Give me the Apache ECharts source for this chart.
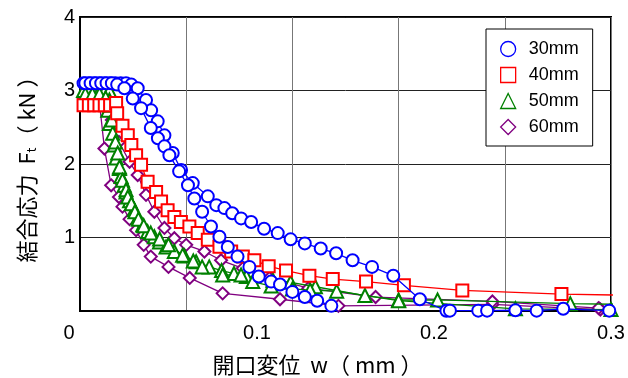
<!DOCTYPE html>
<html>
<head>
<meta charset="utf-8">
<script src="https://cdn.jsdelivr.net/npm/echarts@6/dist/echarts.min.js"></script>
<style>
  html, body { margin: 0; padding: 0; background: #fff; }
  #chart { width: 628px; height: 378px; }
</style>
</head>
<body>
<div id="chart"></div>
<script>
  // legend names
  var sizes = ['30mm', '40mm', '50mm', '60mm'];
  var colors = ['#0000ff', '#ff0000', '#008000', '#800080'];
  var symbols = ['emptyCircle', 'emptyRect', 'emptyTriangle', 'emptyDiamond'];

  var xLabels = [0, 0.1, 0.2, 0.3];
  var yLabels = [1, 2, 3, 4];

  // 30mm, two specimens
  var s30a = [[0.002,3.1],[0.005,3.1],[0.008,3.1],[0.011,3.1],[0.014,3.1],[0.017,3.1],[0.02,3.1],[0.023,3.1],[0.026,3.1],[0.029,3.08],
    [0.0326,3.03],[0.0373,2.87],[0.0402,2.73],[0.0439,2.58],[0.0477,2.39],[0.0524,2.15],[0.0571,1.92],[0.0637,1.74],[0.0722,1.56],
    [0.077,1.44],[0.0816,1.40],[0.086,1.33],[0.091,1.26],[0.0967,1.21],[0.104,1.12],[0.1117,1.06],[0.119,0.975],[0.127,0.92],
    [0.136,0.85],[0.1447,0.785],[0.154,0.69],[0.165,0.60],[0.177,0.48],[0.192,0.16],[0.207,0.003],[0.209,0.005],[0.225,0.005],
    [0.23,0.005],[0.246,0.01],[0.258,0.005],[0.273,0.03],[0.299,0.005]];
  var s30b = [[0.003,3.1],[0.006,3.1],[0.009,3.1],[0.012,3.1],[0.015,3.1],[0.018,3.1],[0.021,3.08],[0.0251,3.03],[0.0298,2.89],
    [0.0345,2.76],[0.040,2.49],[0.044,2.35],[0.0477,2.24],[0.0505,2.12],[0.056,1.90],[0.061,1.71],[0.0646,1.53],[0.069,1.35],
    [0.074,1.15],[0.0788,1.01],[0.0835,0.87],[0.089,0.74],[0.0957,0.60],[0.101,0.47],[0.108,0.40],[0.113,0.36],[0.12,0.26],
    [0.127,0.19],[0.134,0.14],[0.142,0.07],[0.152,-0.15]];
  // 40mm
  var s40 = [[0.002,2.8],[0.005,2.8],[0.008,2.8],[0.011,2.8],[0.014,2.8],[0.017,2.8],[0.0204,2.83],[0.021,2.69],[0.024,2.52],
    [0.027,2.39],[0.029,2.26],[0.0317,2.12],[0.0345,1.99],[0.0382,1.76],[0.043,1.62],[0.0458,1.49],[0.0495,1.37],[0.0533,1.28],
    [0.057,1.21],[0.0618,1.15],[0.0665,1.06],[0.0722,0.97],[0.0788,0.875],[0.0854,0.81],[0.092,0.74],[0.0985,0.69],[0.1066,0.61],
    [0.1164,0.55],[0.1296,0.48],[0.1428,0.435],[0.1616,0.40],[0.183,0.35],[0.216,0.28],[0.272,0.23],[0.32,0.21]];
  // 50mm, two specimens
  var s50a = [[0.002,3.0],[0.005,3.0],[0.008,3.0],[0.011,3.0],[0.014,3.0],[0.0166,3.0],[0.0166,2.87],[0.0157,2.73],[0.0166,2.55],
    [0.0185,2.42],[0.0194,2.26],[0.0204,2.08],[0.0223,1.94],[0.0232,1.83],[0.025,1.71],[0.026,1.62],[0.028,1.50],[0.0307,1.38],
    [0.0326,1.27],[0.0354,1.17],[0.0382,1.08],[0.042,1.01],[0.0449,0.94],[0.0486,0.87],[0.0533,0.81],[0.059,0.75],[0.0656,0.67],
    [0.073,0.60],[0.08,0.55],[0.087,0.51],[0.094,0.47],[0.109,0.42],[0.119,0.39],[0.133,0.33],[0.161,0.21],[0.18,0.15],
    [0.202,0.15],[0.277,0.10],[0.32,0.085]];
  var s50b = [[0.003,2.95],[0.007,2.95],[0.011,2.95],[0.0145,2.9],[0.017,2.8],[0.018,2.6],[0.02,2.3],[0.0213,2.15],[0.0223,1.96],
    [0.024,1.78],[0.026,1.65],[0.027,1.55],[0.029,1.46],[0.031,1.35],[0.033,1.25],[0.036,1.16],[0.04,1.06],[0.045,0.98],[0.05,0.9],
    [0.058,0.76],[0.064,0.68],[0.069,0.6],[0.0806,0.49],[0.091,0.49],[0.0976,0.40],[0.108,0.34],[0.12,0.3],[0.13,0.285],
    [0.145,0.27],[0.18,0.14],[0.246,0.03],[0.3,0.02]];
  // 60mm, two specimens
  var s60a = [[0.002,2.9],[0.005,2.9],[0.008,2.88],[0.011,2.83],[0.0138,2.21],[0.0176,1.71],[0.022,1.55],[0.024,1.42],[0.028,1.25],
    [0.0317,1.10],[0.036,0.9],[0.040,0.74],[0.05,0.6],[0.062,0.45],[0.0806,0.24],[0.113,0.16],[0.146,0.07],[0.233,0.09],
    [0.294,0.02],[0.31,-0.1]];
  var s60b = [[0.003,2.92],[0.007,2.92],[0.012,2.9],[0.018,2.6],[0.022,2.3],[0.028,2.03],[0.0326,1.85],[0.0373,1.58],[0.042,1.35],
    [0.0477,1.13],[0.0533,0.99],[0.06,0.90],[0.0703,0.81],[0.0797,0.69],[0.092,0.58],[0.107,0.45],[0.129,0.31],[0.167,0.19],
    [0.233,0.13],[0.293,0.04],[0.31,-0.1]];

  var groups = [[s30a, s30b], [s40], [s50a, s50b], [s60a, s60b]];
  var markSizes = [12, 12, 13, 12];

  var series = [];
  for (var i = 0; i < groups.length; i++) {
    for (var j = 0; j < groups[i].length; j++) {
      series.push({
        name: sizes[i],
        type: 'line',
        xAxisIndex: 0,
        data: groups[i][j],
        symbol: symbols[i],
        symbolSize: markSizes[i],
        showAllSymbol: true,
        clip: true,
        color: colors[i],
        lineStyle: { color: colors[i], width: 1.3 },
        itemStyle: { color: colors[i], borderColor: colors[i], borderWidth: 1.4 },
        z: 10 - i
      });
    }
  }

  var labelFont = 'Liberation Sans, Arial, sans-serif';
  var jpFont = 'Noto Sans CJK JP, sans-serif';

  var chart = echarts.init(document.getElementById('chart'));
  var option = {
    animation: false,
    grid: {
      left: 80, right: 17, top: 17, bottom: 67,
      outerBoundsMode: 'none',
      show: true, borderColor: '#000', borderWidth: 2, backgroundColor: '#fff'
    },
    legend: {
      orient: 'vertical',
      left: 486, top: 29,
      padding: [11, 14, 10, 14],
      itemGap: 8,
      itemWidth: 15, itemHeight: 15,
      backgroundColor: '#fff',
      borderColor: '#000',
      borderWidth: 1,
      borderRadius: 0,
      textStyle: { color: '#000', fontSize: 18, fontFamily: labelFont, padding: [0, 0, 0, 8] },
      data: sizes.map(function(s, k) { return { name: s, icon: ['circle', 'rect', 'triangle', 'diamond'][k],
        itemStyle: { color: '#fff', borderColor: colors[k], borderWidth: 1.3 } }; })
    },
    xAxis: [
      {
        type: 'value', min: 0, max: 0.3, interval: 0.1,
        name: '開口変位  w（ mm ）',
        nameLocation: 'middle', nameGap: 43,
        nameTextStyle: { color: '#000', fontSize: 22, fontFamily: jpFont, padding: [0, 56, 0, 0] },
        axisLine: { show: true, lineStyle: { color: '#000', width: 2 } },
        axisTick: { show: false },
        splitLine: { show: false },
        axisLabel: {
          color: '#000', fontSize: 20, fontFamily: labelFont, margin: 12,
          formatter: function(v) {
            for (var k = 0; k < xLabels.length; k++) {
              if (Math.abs(v - xLabels[k]) < 1e-9) return xLabels[k] === 0 ? '{z|0}' : String(xLabels[k]);
            }
            return '';
          },
          rich: { z: { fontSize: 20, fontFamily: labelFont, color: '#000', padding: [0, 22, 0, 0] } }
        }
      },
      {
        type: 'value', min: 0, max: 0.3, interval: 0.06,
        position: 'bottom',
        axisLine: { show: false },
        axisTick: { show: false },
        axisLabel: { show: false },
        splitLine: { show: true, lineStyle: { color: '#777', width: 1 } }
      }
    ],
    yAxis: {
      type: 'value', min: 0, max: 4, interval: 1,
      name: '結合応力  F{sub|t}（ kN ）',
      nameLocation: 'middle', nameGap: 42,
      nameTextStyle: {
        color: '#000', fontSize: 22, fontFamily: jpFont,
        rich: { sub: { fontSize: 13, fontFamily: jpFont, color: '#000', verticalAlign: 'bottom', padding: [10, 0, 0, 0] } }
      },
      axisLine: { show: true, lineStyle: { color: '#000', width: 2 } },
      axisTick: { show: false },
      splitLine: { show: true, lineStyle: { color: '#222', width: 1 } },
      axisLabel: {
        color: '#000', fontSize: 20, fontFamily: labelFont, margin: 5,
        formatter: function(v) { return yLabels.indexOf(v) >= 0 ? String(v) : ''; }
      }
    },
    series: series
  };
  chart.setOption(option);
</script>
</body>
</html>
